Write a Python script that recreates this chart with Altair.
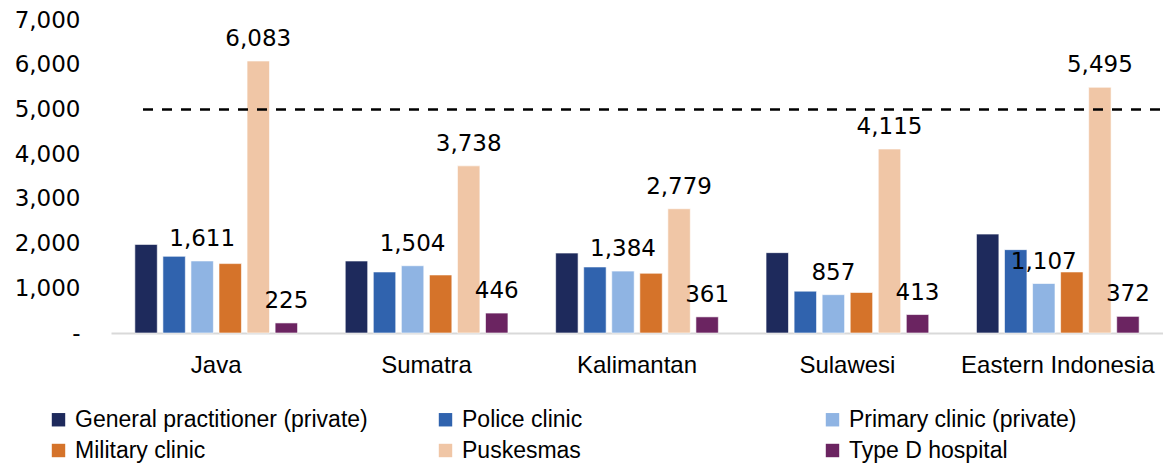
import altair as alt
import pandas as pd

regions = ["Java", "Sumatra", "Kalimantan", "Sulawesi", "Eastern Indonesia"]
series = ["General practitioner (private)", "Police clinic", "Primary clinic (private)",
          "Military clinic", "Puskesmas", "Type D hospital"]
gp = [1982, 1610, 1788, 1797, 2212]
police = [1715, 1365, 1477, 935, 1864]
primary = [1611, 1504, 1384, 857, 1107]
military = [1552, 1298, 1336, 906, 1365]
puskesmas = [6083, 3738, 2779, 4115, 5495]
typed = [225, 446, 361, 413, 372]
labelled = ["Primary clinic (private)", "Puskesmas", "Type D hospital"]
threshold = [5000]
colors = ["#1E2A5C", "#3063AE", "#8FB4E3", "#D5732A", "#F0C6A6", "#6B2461"]
# legend is laid out column by column (2 rows x 3 columns)
legend_order = [0, 3, 1, 4, 2, 5]

all_values = [gp, police, primary, military, puskesmas, typed]
rows = []
for s, vals in zip(series, all_values):
    for r, v in zip(regions, vals):
        rows.append({"region": r, "series": s, "value": v})
df = pd.DataFrame(rows)

W, H = 1052, 313
NUM_FONT = "DejaVu Sans"
TXT_FONT = "Liberation Sans"

x_enc = alt.X("region:N", sort=regions, title=None,
              scale=alt.Scale(domain=regions, paddingInner=0.2, paddingOuter=0.1),
              axis=alt.Axis(labelAngle=0, ticks=False, domainColor="#d9d9d9", domainWidth=2,
                            labelFont=TXT_FONT, labelFontSize=24, labelColor="#000000",
                            labelPadding=20, labelLimit=400))
xoff_enc = alt.XOffset("series:N", scale=alt.Scale(domain=series, paddingInner=0.2, paddingOuter=0.1))
y_enc = alt.Y("value:Q", title=None,
              scale=alt.Scale(domain=[0, 7000], nice=False),
              axis=alt.Axis(values=[0, 1000, 2000, 3000, 4000, 5000, 6000, 7000],
                            labelExpr="datum.value == 0 ? '-' : format(datum.value, ',')",
                            grid=False, ticks=False, domain=False,
                            labelFont=NUM_FONT, labelFontSize=23, labelColor="#000000",
                            labelPadding=31))

bars = alt.Chart(df).mark_bar(stroke="#ffffff", strokeWidth=1, strokeOpacity=0.6).encode(
    x=x_enc,
    xOffset=xoff_enc,
    y=y_enc,
    color=alt.Color("series:N", title=None,
                    scale=alt.Scale(domain=[series[i] for i in legend_order],
                                    range=[colors[i] for i in legend_order]),
                    legend=alt.Legend(orient="none", legendX=-64, legendY=388, columns=3,
                                      gridAlign="all", columnPadding=66, rowPadding=7,
                                      symbolType="square", symbolSize=180, symbolStrokeWidth=0,
                                      labelFont=TXT_FONT, labelFontSize=23, labelColor="#000000",
                                      labelOffset=5, labelLimit=400, padding=0)),
)

labels = alt.Chart(df).transform_filter(
    alt.FieldOneOfPredicate(field="series", oneOf=labelled)
).mark_text(baseline="alphabetic", dy=-15, font=NUM_FONT, fontSize=23, color="#000000").encode(
    x=x_enc,
    xOffset=xoff_enc,
    y=y_enc,
    text=alt.Text("value:Q", format=","),
)

rule = alt.Chart(pd.DataFrame({"value": threshold})).mark_rule(
    color="#000000", strokeDash=[10, 9], strokeWidth=2.5
).encode(y=alt.Y("value:Q"), x=alt.value(32), x2=alt.value(W))

chart = alt.layer(bars, labels, rule).properties(
    width=W, height=H,
    autosize="none",
    padding={"left": 103, "top": 12, "right": 0, "bottom": 134},
).configure_view(stroke=None)

chart.save("out.html", embed_options={"renderer": "svg", "actions": False})
